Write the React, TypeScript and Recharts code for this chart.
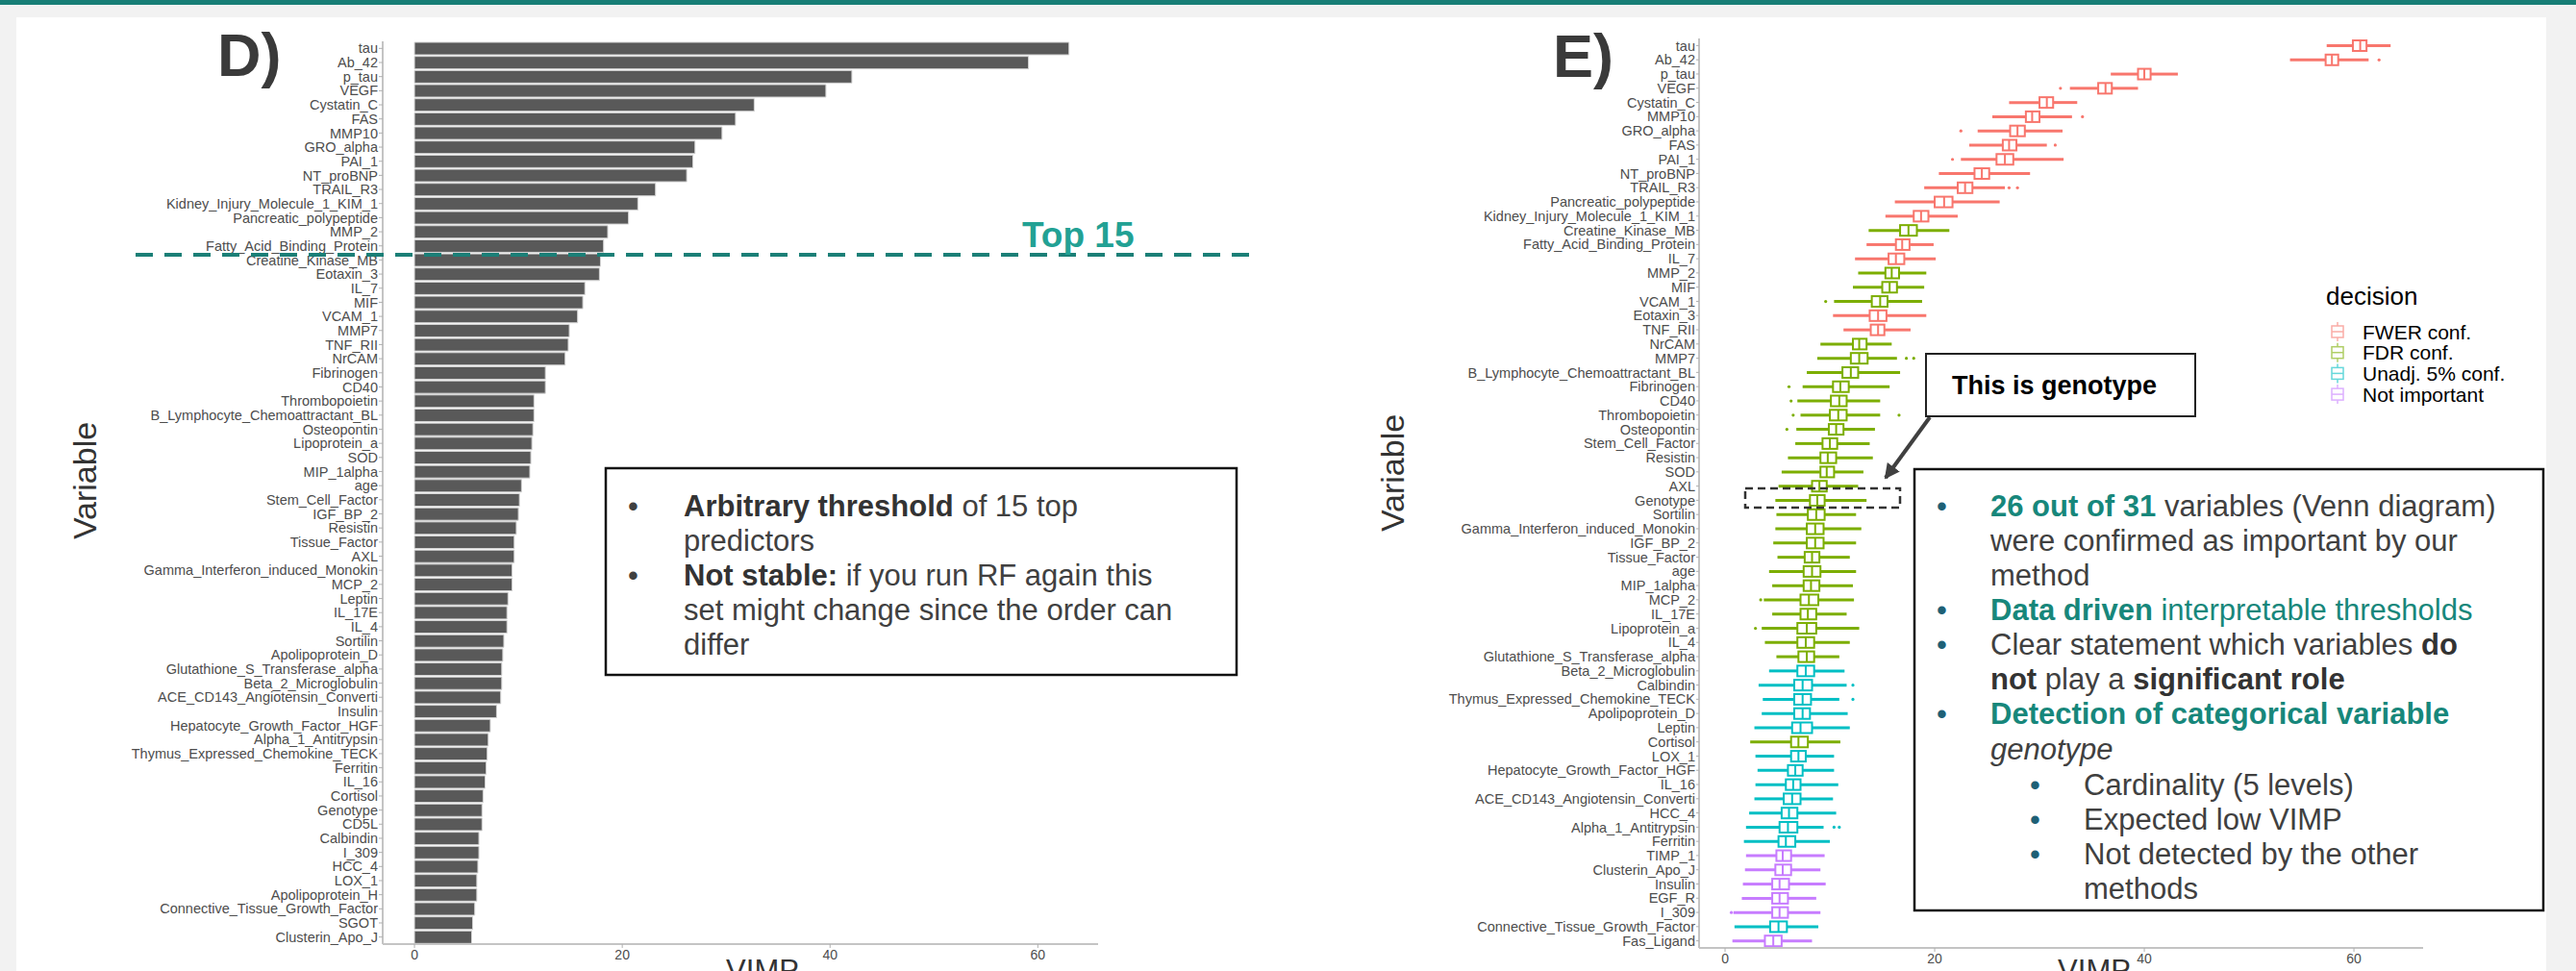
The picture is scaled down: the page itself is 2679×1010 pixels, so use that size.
import { Bar, BarChart, XAxis, YAxis } from 'recharts';

const FONT = '"Liberation Sans", Arial, sans-serif';

// panel D: single-run VIMP ranking
const vimpNames = [
  'tau', 'Ab_42', 'p_tau', 'VEGF', 'Cystatin_C', 'FAS', 'MMP10', 'GRO_alpha', 'PAI_1', 'NT_proBNP',
  'TRAIL_R3', 'Kidney_Injury_Molecule_1_KIM_1', 'Pancreatic_polypeptide', 'MMP_2', 'Fatty_Acid_Binding_Protein',
  'Creatine_Kinase_MB', 'Eotaxin_3', 'IL_7', 'MIF', 'VCAM_1', 'MMP7', 'TNF_RII', 'NrCAM', 'Fibrinogen', 'CD40',
  'Thrombopoietin', 'B_Lymphocyte_Chemoattractant_BL', 'Osteopontin', 'Lipoprotein_a', 'SOD', 'MIP_1alpha', 'age',
  'Stem_Cell_Factor', 'IGF_BP_2', 'Resistin', 'Tissue_Factor', 'AXL', 'Gamma_Interferon_induced_Monokin', 'MCP_2',
  'Leptin', 'IL_17E', 'IL_4', 'Sortilin', 'Apolipoprotein_D', 'Glutathione_S_Transferase_alpha',
  'Beta_2_Microglobulin', 'ACE_CD143_Angiotensin_Converti', 'Insulin', 'Hepatocyte_Growth_Factor_HGF',
  'Alpha_1_Antitrypsin', 'Thymus_Expressed_Chemokine_TECK', 'Ferritin', 'IL_16', 'Cortisol', 'Genotype', 'CD5L',
  'Calbindin', 'I_309', 'HCC_4', 'LOX_1', 'Apolipoprotein_H', 'Connective_Tissue_Growth_Factor', 'SGOT',
  'Clusterin_Apo_J',
];
const vimpValues = [
  63.0, 59.1, 42.1, 39.6, 32.7, 30.9, 29.6, 27.0, 26.8, 26.2,
  23.2, 21.5, 20.6, 18.6, 18.2, 17.9, 17.8, 16.4, 16.2, 15.7,
  14.9, 14.8, 14.5, 12.6, 12.6, 11.5, 11.5, 11.4, 11.3, 11.2,
  11.1, 10.3, 10.1, 10.0, 9.8, 9.6, 9.6, 9.4, 9.4, 9.0,
  8.9, 8.9, 8.6, 8.5, 8.4, 8.4, 8.3, 7.9, 7.3, 7.1,
  7.0, 6.9, 6.8, 6.6, 6.5, 6.5, 6.2, 6.2, 6.1, 6.0,
  6.0, 5.8, 5.6, 5.5,
];

// panel E: VIMP distributions per variable
const boxNames = [
  'tau', 'Ab_42', 'p_tau', 'VEGF', 'Cystatin_C', 'MMP10', 'GRO_alpha', 'FAS', 'PAI_1', 'NT_proBNP',
  'TRAIL_R3', 'Pancreatic_polypeptide', 'Kidney_Injury_Molecule_1_KIM_1', 'Creatine_Kinase_MB',
  'Fatty_Acid_Binding_Protein', 'IL_7', 'MMP_2', 'MIF', 'VCAM_1', 'Eotaxin_3', 'TNF_RII', 'NrCAM', 'MMP7',
  'B_Lymphocyte_Chemoattractant_BL', 'Fibrinogen', 'CD40', 'Thrombopoietin', 'Osteopontin', 'Stem_Cell_Factor',
  'Resistin', 'SOD', 'AXL', 'Genotype', 'Sortilin', 'Gamma_Interferon_induced_Monokin', 'IGF_BP_2',
  'Tissue_Factor', 'age', 'MIP_1alpha', 'MCP_2', 'IL_17E', 'Lipoprotein_a', 'IL_4',
  'Glutathione_S_Transferase_alpha', 'Beta_2_Microglobulin', 'Calbindin', 'Thymus_Expressed_Chemokine_TECK',
  'Apolipoprotein_D', 'Leptin', 'Cortisol', 'LOX_1', 'Hepatocyte_Growth_Factor_HGF', 'IL_16',
  'ACE_CD143_Angiotensin_Converti', 'HCC_4', 'Alpha_1_Antitrypsin', 'Ferritin', 'TIMP_1', 'Clusterin_Apo_J',
  'Insulin', 'EGF_R', 'I_309', 'Connective_Tissue_Growth_Factor', 'Fas_Ligand',
];
const boxDecision = [
  'FWER', 'FWER', 'FWER', 'FWER', 'FWER', 'FWER', 'FWER', 'FWER', 'FWER', 'FWER',
  'FWER', 'FWER', 'FWER', 'FDR', 'FWER', 'FWER', 'FDR', 'FDR', 'FDR', 'FWER',
  'FWER', 'FDR', 'FDR', 'FDR', 'FDR', 'FDR', 'FDR', 'FDR', 'FDR', 'FDR',
  'FDR', 'FDR', 'FDR', 'FDR', 'FDR', 'FDR', 'FDR', 'FDR', 'FDR', 'FDR',
  'FDR', 'FDR', 'FDR', 'FDR', 'Unadj', 'Unadj', 'Unadj', 'Unadj', 'Unadj', 'FDR',
  'Unadj', 'Unadj', 'Unadj', 'Unadj', 'Unadj', 'Unadj', 'Unadj', 'None', 'None', 'None',
  'None', 'None', 'Unadj', 'None',
];
const boxLow = [
  57.4, 53.9, 36.8, 32.9, 27.1, 25.5, 24.1, 23.3, 22.5, 20.4,
  19.0, 16.2, 15.3, 13.7, 13.5, 12.4, 12.7, 12.2, 10.4, 10.3,
  11.3, 9.1, 8.8, 7.8, 7.4, 6.9, 7.2, 6.8, 6.7, 6.0,
  5.4, 5.1, 4.8, 4.9, 4.8, 4.6, 5.0, 4.2, 4.5, 3.7,
  4.5, 3.5, 3.8, 4.9, 4.2, 3.2, 3.6, 3.5, 2.8, 2.4,
  2.9, 3.1, 2.9, 2.8, 2.3, 2.0, 1.8, 2.0, 1.9, 1.7,
  1.6, 0.8, 0.9, 0.7,
];
const boxQ1 = [
  59.9, 57.3, 39.4, 35.6, 30.0, 28.7, 27.2, 26.5, 25.9, 23.8,
  22.2, 20.0, 18.0, 16.7, 16.3, 15.6, 15.3, 15.0, 14.0, 13.8,
  13.9, 12.2, 12.0, 11.2, 10.3, 10.1, 10.0, 9.9, 9.3, 9.1,
  9.1, 8.3, 8.1, 7.9, 7.8, 7.8, 7.6, 7.5, 7.5, 7.2,
  7.2, 6.9, 6.9, 7.0, 6.9, 6.6, 6.6, 6.6, 6.4, 6.3,
  6.3, 6.0, 5.8, 5.6, 5.4, 5.2, 5.1, 4.9, 4.8, 4.5,
  4.5, 4.5, 4.3, 3.8,
];
const boxMedian = [
  60.6, 57.9, 40.0, 36.3, 30.7, 29.3, 27.9, 27.1, 26.7, 24.5,
  22.9, 20.9, 18.7, 17.5, 16.9, 16.3, 15.9, 15.7, 14.8, 14.6,
  14.6, 12.8, 12.8, 12.0, 11.0, 10.9, 10.8, 10.6, 10.0, 9.8,
  9.7, 9.0, 8.8, 8.7, 8.6, 8.6, 8.3, 8.3, 8.2, 8.0,
  7.9, 7.8, 7.7, 7.8, 7.7, 7.4, 7.4, 7.4, 7.2, 7.0,
  7.0, 6.7, 6.5, 6.4, 6.1, 6.0, 5.8, 5.5, 5.5, 5.2,
  5.2, 5.2, 5.1, 4.6,
];
const boxQ3 = [
  61.2, 58.5, 40.6, 36.9, 31.3, 30.0, 28.6, 27.8, 27.5, 25.2,
  23.6, 21.7, 19.4, 18.3, 17.6, 17.1, 16.6, 16.4, 15.5, 15.4,
  15.2, 13.5, 13.6, 12.7, 11.8, 11.6, 11.6, 11.3, 10.7, 10.6,
  10.4, 9.7, 9.5, 9.5, 9.4, 9.4, 9.0, 9.1, 9.0, 8.9,
  8.7, 8.7, 8.5, 8.5, 8.5, 8.3, 8.2, 8.1, 8.3, 7.9,
  7.7, 7.4, 7.2, 7.2, 6.9, 6.9, 6.7, 6.3, 6.3, 6.1,
  6.0, 6.0, 5.9, 5.4,
];
const boxHigh = [
  63.5, 61.4, 43.2, 39.4, 33.6, 33.1, 32.2, 30.7, 32.3, 29.1,
  26.7, 26.2, 22.2, 21.4, 19.9, 20.1, 19.2, 19.0, 18.8, 19.2,
  17.7, 15.9, 16.4, 16.7, 15.7, 14.8, 14.8, 14.3, 13.8, 14.1,
  13.2, 12.7, 13.5, 12.5, 13.0, 12.5, 11.9, 12.5, 12.2, 12.3,
  11.6, 12.8, 11.9, 10.9, 11.4, 11.6, 10.9, 11.7, 11.9, 11.0,
  10.4, 10.4, 10.8, 10.3, 10.6, 9.4, 10.0, 9.5, 9.1, 9.6,
  8.7, 9.1, 8.9, 8.3,
];
const boxOutliers: number[][] = [
  [], [62.4], [], [32.0], [], [34.1], [22.5], [31.5], [21.7], [],
  [27.1, 27.9], [], [], [], [], [], [], [], [9.6], [],
  [], [], [17.3, 18.0], [], [6.1], [6.3], [6.5, 16.6], [5.9], [], [],
  [], [], [], [], [], [], [], [], [], [3.4],
  [], [2.9], [], [], [], [12.2], [12.2], [], [], [],
  [], [], [], [], [], [10.4, 10.9], [], [], [], [],
  [], [0.6], [], [],
];

const decisionKeys = ['FWER', 'FDR', 'Unadj', 'None'];
const decisionLabels = ['FWER conf.', 'FDR conf.', 'Unadj. 5% conf.', 'Not important'];
const decisionColors: Record<string, string> = {
  FWER: '#F8766D',
  FDR: '#7CAE00',
  Unadj: '#00BFC4',
  None: '#C77CFF',
};
const vimpTicks = [0, 20, 40, 60];

const barData = vimpNames.map((name, i) => ({ name, vimp: vimpValues[i] }));
const boxData = boxNames.map((name, i) => ({
  name,
  decision: boxDecision[i],
  range: [boxLow[i], boxHigh[i]],
  low: boxLow[i],
  q1: boxQ1[i],
  median: boxMedian[i],
  q3: boxQ3[i],
  high: boxHigh[i],
  outliers: boxOutliers[i],
}));

const tickStyle = { fontSize: 14.5, fill: '#4d4d4d', fontFamily: FONT };

const BoxShape = (props: any) => {
  const { x, y, width, height, payload } = props;
  if (!payload || !width) return null;
  const { low, high, q1, median, q3, outliers, decision } = payload;
  const px = (v: number) => x + ((v - low) / (high - low)) * width;
  const cy = y + height / 2;
  const color = decisionColors[decision];
  return (
    <g>
      <line x1={px(low)} x2={px(q1)} y1={cy} y2={cy} stroke={color} strokeWidth={3} />
      <line x1={px(q3)} x2={px(high)} y1={cy} y2={cy} stroke={color} strokeWidth={3} />
      <rect x={px(q1)} y={y} width={px(q3) - px(q1)} height={height} fill="#fff" stroke={color} strokeWidth={2} />
      <line x1={px(median)} x2={px(median)} y1={y} y2={y + height} stroke={color} strokeWidth={2} />
      {outliers.map((o: number, k: number) => (
        <circle key={k} cx={px(o)} cy={cy} r={1.6} fill={color} />
      ))}
    </g>
  );
};

const teal = '#17877b';
const grayText = '#404040';
const bullet = '#1e6076';

const App = () => {
  return (
    <div style={{ position: 'absolute', left: 0, top: 0, width: 2679, height: 1010, background: '#f2f2f2', overflow: 'hidden', fontFamily: FONT }}>
      <div style={{ position: 'absolute', left: 0, top: 0, width: 2679, height: 5, background: '#177e76' }} />
      <div style={{ position: 'absolute', left: 17, top: 18, width: 2631, height: 992, background: '#fff' }} />

      {/* D) bar chart */}
      <div style={{ position: 'absolute', left: 0, top: 0 }}>
        <BarChart width={1160} height={1010} data={barData} layout="vertical" margin={{ top: 43, right: 18, bottom: 0, left: 0 }}>
          <XAxis
            type="number"
            domain={[-3.06, 65.8]}
            allowDataOverflow
            ticks={vimpTicks}
            height={28}
            tick={{ ...tickStyle, fontSize: 14 }}
            tickSize={4}
            axisLine={{ stroke: '#c4c4c4', strokeWidth: 2 }}
            tickLine={{ stroke: '#b0b0b0' }}
          />
          <YAxis
            type="category"
            dataKey="name"
            width={398}
            interval={0}
            tick={tickStyle}
            tickSize={4}
            tickMargin={1}
            axisLine={{ stroke: '#c4c4c4', strokeWidth: 2 }}
            tickLine={{ stroke: '#b0b0b0' }}
          />
          <Bar dataKey="vimp" fill="#595959" stroke="#d4d4d4" strokeWidth={1} barSize={13} isAnimationActive={false} />
        </BarChart>
      </div>

      {/* E) boxplot chart */}
      <div style={{ position: 'absolute', left: 1300, top: 0 }}>
        <BarChart width={1240} height={1010} data={boxData} layout="vertical" margin={{ top: 40, right: 20, bottom: 0, left: 0 }}>
          <XAxis
            type="number"
            domain={[-2.48, 66.6]}
            allowDataOverflow
            ticks={vimpTicks}
            height={24}
            tick={{ ...tickStyle, fontSize: 14 }}
            tickSize={4}
            axisLine={{ stroke: '#c4c4c4', strokeWidth: 2 }}
            tickLine={{ stroke: '#b0b0b0' }}
          />
          <YAxis
            type="category"
            dataKey="name"
            width={467}
            interval={0}
            tick={tickStyle}
            tickSize={3}
            tickMargin={1}
            axisLine={{ stroke: '#c4c4c4', strokeWidth: 2 }}
            tickLine={{ stroke: '#b0b0b0' }}
          />
          <Bar dataKey="range" barSize={11} shape={BoxShape} isAnimationActive={false} />
        </BarChart>
      </div>

      {/* annotations */}
      <svg width={2679} height={1010} style={{ position: 'absolute', left: 0, top: 0, pointerEvents: 'none' }} fontFamily={FONT}>
        <defs>
          <marker id="arrowHead" markerWidth="4" markerHeight="4" refX="3.5" refY="2" orient="auto" markerUnits="strokeWidth">
            <path d="M0,0 L4,2 L0,4 z" fill="#404040" />
          </marker>
        </defs>

        <text x={226} y={79} fontSize={63} fontWeight="bold" fill="#3a3a3a">D)</text>
        <text x={1615} y={80} fontSize={63} fontWeight="bold" fill="#3a3a3a">E)</text>

        <text transform="translate(88,500) rotate(-90)" textAnchor="middle" dominantBaseline="central" fontSize={34} fill="#333">Variable</text>
        <text transform="translate(1448,492) rotate(-90)" textAnchor="middle" dominantBaseline="central" fontSize={34} fill="#333">Variable</text>

        <text x={793} y={1020} textAnchor="middle" fontSize={31} fill="#333">VIMP</text>
        <text x={2178} y={1020} textAnchor="middle" fontSize={31} fill="#333">VIMP</text>

        {/* top 15 cut */}
        <line x1={141} x2={1304} y1={265} y2={265} stroke="#1b7f77" strokeWidth={4} strokeDasharray="18 12" />
        <text x={1063} y={257} fontSize={37} fontWeight="bold" fill="#22a194">Top 15</text>

        {/* left note */}
        <rect x={630} y={487} width={656} height={215} fill="#fff" stroke="#111" strokeWidth={2.5} />
        <g fontSize={31} fill={grayText}>
          <text x={653} y={537}>•</text>
          <text x={711} y={537}><tspan fontWeight="bold" fill="#333">Arbitrary threshold</tspan> of 15 top</text>
          <text x={711} y={573}>predictors</text>
          <text x={653} y={609}>•</text>
          <text x={711} y={609}><tspan fontWeight="bold" fill="#333">Not stable:</tspan> if you run RF again this</text>
          <text x={711} y={645}>set might change since the order can</text>
          <text x={711} y={681}>differ</text>
        </g>

        {/* genotype callout */}
        <rect x={1815} y={508} width={161} height={20} fill="none" stroke="#333" strokeWidth={2.5} strokeDasharray="8 5" />
        <line x1={2007} y1={434} x2={1961} y2={497} stroke="#404040" strokeWidth={4} markerEnd="url(#arrowHead)" />
        <rect x={2003} y={368} width={280} height={65} fill="#fff" stroke="#222" strokeWidth={2} />
        <text x={2030} y={410} fontSize={27} fontWeight="bold" fill="#000">This is genotype</text>

        {/* right note */}
        <rect x={1991} y={488} width={654} height={459} fill="#fff" stroke="#111" strokeWidth={2.5} />
        <g fontSize={31} fill={grayText}>
          <text x={2014} y={537} fill={bullet}>•</text>
          <text x={2070} y={537}><tspan fontWeight="bold" fill={teal}>26 out of 31</tspan> variables (Venn diagram)</text>
          <text x={2070} y={573}>were confirmed as important by our</text>
          <text x={2070} y={609}>method</text>
          <text x={2014} y={645} fill={bullet}>•</text>
          <text x={2070} y={645} fill={teal}><tspan fontWeight="bold">Data driven</tspan> interpretable thresholds</text>
          <text x={2014} y={681} fill={bullet}>•</text>
          <text x={2070} y={681}>Clear statement which variables <tspan fontWeight="bold" fill="#333">do</tspan></text>
          <text x={2070} y={717}><tspan fontWeight="bold" fill="#333">not</tspan> play a <tspan fontWeight="bold" fill="#333">significant role</tspan></text>
          <text x={2014} y={753} fill={bullet}>•</text>
          <text x={2070} y={753} fontWeight="bold" fill={teal}>Detection of categorical variable</text>
          <text x={2070} y={790} fontStyle="italic">genotype</text>
          <text x={2111} y={827} fill={bullet}>•</text>
          <text x={2167} y={827}>Cardinality (5 levels)</text>
          <text x={2111} y={863} fill={bullet}>•</text>
          <text x={2167} y={863}>Expected low VIMP</text>
          <text x={2111} y={899} fill={bullet}>•</text>
          <text x={2167} y={899}>Not detected by the other</text>
          <text x={2167} y={935}>methods</text>
        </g>

        {/* legend */}
        <text x={2419} y={317} fontSize={26} fill="#000">decision</text>
        {decisionKeys.map((k, i) => {
          const cy = 345 + i * 21.7;
          const c = decisionColors[k];
          return (
            <g key={k}>
              <g opacity={0.6}>
                <line x1={2431} x2={2431} y1={cy - 10} y2={cy + 10} stroke={c} strokeWidth={1.5} />
                <rect x={2425} y={cy - 6} width={12} height={12} fill="#fff" stroke={c} strokeWidth={1.5} />
                <line x1={2425} x2={2437} y1={cy} y2={cy} stroke={c} strokeWidth={1.5} />
              </g>
              <text x={2457} y={cy + 7.5} fontSize={21} fill="#000">{decisionLabels[i]}</text>
            </g>
          );
        })}
      </svg>
    </div>
  );
};

export default App;
